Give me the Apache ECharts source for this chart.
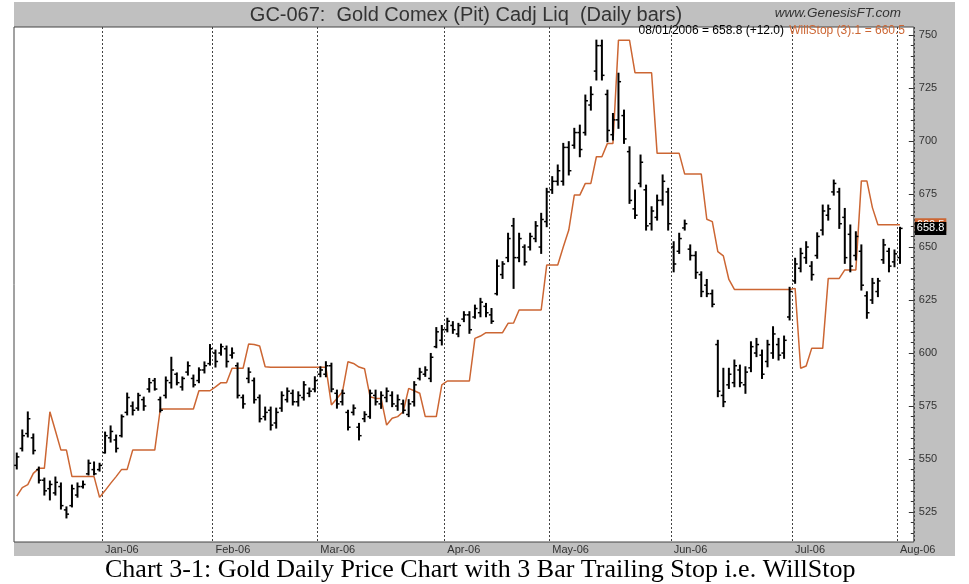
<!DOCTYPE html>
<html>
<head>
<meta charset="utf-8">
<title>GC-067 Gold Comex daily bars with WillStop</title>
<script src="https://cdn.jsdelivr.net/npm/echarts@6.0.0/dist/echarts.min.js"></script>
<style>
  html, body { margin: 0; padding: 0; background: #fff; }
  #chart { width: 969px; height: 584px; }
</style>
</head>
<body>
<div id="chart"></div>
<script>
// trading calendar: 08 Dec 2005 .. 01 Aug 2006, weekdays minus exchange holidays
const firstDay = '2005-12-08';
const lastDay = '2006-08-01';
const holidays = ['2005-12-26', '2006-01-02', '2006-01-16', '2006-02-20',
                  '2006-04-14', '2006-05-29', '2006-07-03', '2006-07-04'];
const monthNames = ['Jan', 'Feb', 'Mar', 'Apr', 'May', 'Jun',
                    'Jul', 'Aug', 'Sep', 'Oct', 'Nov', 'Dec'];

// daily bars
const opens = [
  547, 555, 562, 560, 545, 540, 536, 534, 537, 526,
  528, 533, 537, 543, 545, 545, 553, 560, 559, 561,
  572, 575, 574, 578, 583, 587, 578, 580, 586, 590,
  584, 591, 588, 587, 592, 595, 600, 600, 602, 599,
  594, 579, 588, 587, 579, 570, 573, 567, 574, 578,
  581, 577, 579, 581, 583, 590, 590, 594, 581, 577,
  572, 572, 565, 569, 570, 580, 576, 579, 580, 575,
  576, 571, 577, 588, 590, 588, 603, 606, 611, 613,
  609, 616, 618, 617, 619, 622, 618, 628, 637, 645,
  660, 645, 650, 650, 654, 650, 662, 677, 681, 681,
  697, 698, 704, 704, 717, 733, 745, 722, 703, 710,
  712, 695, 668, 680, 677, 661, 664, 672, 676, 650,
  648, 659, 649, 646, 637, 632, 628, 604, 580, 585,
  586, 592, 585, 593, 600, 599, 596, 600, 604, 600,
  617, 634, 640, 645, 641, 646, 658, 665, 676, 676,
  664, 656, 646, 648, 627, 625, 629, 644, 648, 643,
  645
];
const highs = [
  552.8, 563.7, 572.2, 561.8, 546.2, 541.0, 539.6, 541.5, 538.7, 527.4,
  537.7, 538.7, 539.6, 549.5, 548.6, 548.0, 562.7, 565.6, 561.3, 570.8,
  581.1, 576.9, 581.0, 579.2, 588.0, 588.0, 579.2, 588.7, 598.0, 590.6,
  588.7, 595.8, 589.6, 593.0, 595.8, 604.0, 601.4, 604.2, 603.3, 602.4,
  595.3, 580.2, 593.0, 588.2, 580.2, 574.5, 574.5, 574.0, 581.7, 583.5,
  582.5, 581.7, 586.5, 583.5, 588.8, 593.5, 595.9, 595.2, 582.5, 582.5,
  573.0, 575.5, 566.8, 572.3, 582.5, 582.5, 581.7, 583.5, 581.7, 580.2,
  577.8, 578.0, 586.5, 592.8, 593.5, 599.8, 612.0, 613.0, 616.4, 614.8,
  614.0, 619.5, 619.5, 622.6, 625.8, 623.4, 621.0, 643.9, 643.1, 656.5,
  663.5, 656.5, 651.0, 656.5, 662.0, 665.9, 677.7, 683.2, 688.7, 698.9,
  699.7, 706.0, 707.5, 721.7, 725.6, 747.6, 747.6, 724.0, 713.0, 732.0,
  714.6, 697.3, 676.9, 693.4, 679.2, 669.0, 674.5, 684.0, 677.7, 652.5,
  656.5, 662.7, 651.0, 647.8, 638.3, 634.7, 629.7, 606.0, 592.8, 592.8,
  596.7, 594.3, 593.5, 605.3, 606.9, 601.4, 606.0, 612.4, 606.9, 608.0,
  631.0, 644.7, 649.4, 652.5, 643.1, 656.7, 669.8, 669.8, 681.6, 677.7,
  668.2, 660.4, 657.2, 651.0, 628.9, 635.2, 635.2, 653.6, 649.4, 648.6,
  659.3
];
const lows = [
  545.3, 553.8, 560.4, 552.4, 538.7, 533.0, 530.7, 533.0, 526.4, 522.2,
  527.4, 532.0, 536.3, 542.5, 542.5, 544.3, 552.8, 558.0, 553.3, 560.4,
  570.8, 570.8, 573.0, 573.0, 581.6, 582.5, 572.2, 578.8, 583.5, 585.0,
  582.5, 589.6, 584.0, 586.0, 590.6, 594.3, 593.4, 599.0, 593.4, 597.6,
  578.8, 574.0, 586.0, 576.4, 567.5, 568.4, 563.7, 564.6, 572.5, 576.9,
  575.5, 575.0, 577.8, 579.4, 581.7, 588.8, 588.8, 581.7, 574.0, 575.5,
  563.7, 570.8, 559.0, 567.6, 569.2, 575.5, 573.9, 577.0, 574.7, 573.0,
  571.6, 570.0, 575.0, 587.3, 589.0, 586.5, 602.5, 603.8, 610.0, 609.3,
  607.7, 614.8, 609.3, 616.4, 617.1, 617.1, 614.0, 627.4, 635.2, 643.1,
  630.5, 643.1, 641.5, 648.6, 652.5, 647.0, 659.6, 675.3, 679.2, 679.2,
  684.0, 696.6, 692.6, 702.8, 714.6, 728.8, 728.8, 699.7, 700.5, 706.0,
  698.9, 670.6, 663.5, 678.4, 658.0, 658.0, 662.7, 669.8, 658.0, 638.3,
  647.0, 658.0, 643.9, 635.2, 626.6, 626.6, 621.8, 579.4, 574.7, 583.3,
  584.1, 584.1, 581.0, 591.2, 598.3, 588.0, 593.5, 597.5, 596.7, 597.5,
  615.6, 632.9, 638.3, 642.3, 634.4, 644.7, 655.7, 662.7, 674.5, 658.8,
  642.3, 638.3, 643.9, 629.7, 616.4, 623.4, 626.6, 642.3, 638.3, 640.7,
  642.3
];
const closes = [
  551, 561, 569, 554, 540, 535, 538, 539, 528, 524,
  536, 537, 538, 548, 543, 547, 561, 563, 555, 570,
  579, 573, 580, 575, 586, 583, 573, 587, 592, 586,
  588, 594, 585, 592, 594, 602, 596, 603, 596, 600,
  580, 576, 591, 578, 569, 572, 566, 572, 580, 582,
  577, 580, 585, 582, 587, 592, 594, 583, 576, 581,
  565, 574, 561, 571, 581, 577, 580, 582, 576, 578,
  573, 576, 585, 591, 592, 598, 610, 611, 615, 611,
  613, 618, 611, 621, 624, 619, 615, 641, 642, 654,
  645, 654, 643, 655, 660, 663, 676, 681, 686, 697,
  686, 704, 696, 719, 722, 745, 731, 705, 710, 728,
  701, 672, 665, 690, 660, 667, 672, 681, 661, 642,
  654, 661, 646, 638, 629, 628, 623, 582, 577, 590,
  594, 586, 591, 603, 604, 590, 604, 609, 599, 606,
  629, 642, 647, 650, 637, 655, 667, 668, 680, 661,
  645, 641, 655, 632, 619, 633, 634, 651, 641, 646.8,
  658.8
];
// WillStop (3) trailing stop
const willStop = [
  532.5, 536.5, 537.9, 543.2, 545.6, 545.6, 572.3, 563.3, 554.2, 554.2,
  541.7, 541.7, 541.7, 541.7, 541.7, 531.9, 535.1, 538.5, 541.7, 545.1,
  545.1, 554.2, 554.2, 554.2, 554.2, 554.2, 573.6, 573.6, 573.6, 573.6,
  573.6, 573.6, 573.6, 582.2, 582.2, 582.2, 584.0, 586.0, 586.0, 592.8,
  592.8, 592.8, 604.2, 604.0, 603.3, 593.5, 593.3, 593.3, 593.3, 593.3,
  593.3, 593.3, 593.3, 593.3, 593.3, 593.3, 593.3, 575.5, 578.5, 581.7,
  595.9, 595.1, 593.4, 592.6, 579.4, 578.6, 578.6, 566.0, 569.2, 570.0,
  572.3, 583.3, 582.2, 581.0, 570.0, 570.0, 570.0, 585.0, 586.8, 586.8,
  586.8, 586.8, 586.8, 606.9, 608.0, 609.6, 609.6, 609.6, 609.6, 614.0,
  614.2, 620.3, 620.3, 620.3, 620.3, 620.3, 641.5, 641.5, 641.5, 650.0,
  658.0, 674.5, 674.5, 680.0, 680.0, 692.6, 692.6, 698.9, 698.9, 747.6,
  747.6, 747.6, 732.2, 732.2, 732.2, 732.2, 694.2, 694.2, 694.2, 694.2,
  694.2, 684.4, 684.4, 684.4, 684.4, 663.1, 662.0, 647.8, 645.8, 634.7,
  630.0, 630.0, 630.0, 630.0, 630.0, 630.0, 630.0, 630.0, 630.0, 630.0,
  630.0, 630.5, 592.8, 593.9, 602.2, 602.2, 602.2, 635.2, 635.2, 635.2,
  639.2, 639.2, 639.2, 681.2, 681.2, 668.6, 660.5, 660.5, 660.5, 660.5,
  660.5
];

const priceTicks = [525, 550, 575, 600, 625, 650, 675, 700, 725, 750];
const minorTicks = [515, 520, 530, 535, 540, 545, 555, 560, 565, 570, 580, 585,
                    590, 595, 605, 610, 615, 620, 630, 635, 640, 645, 655, 660,
                    665, 670, 680, 685, 690, 695, 705, 710, 715, 720, 730, 735,
                    740, 745];

const FRAME = '#c0c0c0';
const INK = '#333';
const STOP_COLOR = '#cc6633';
const SANS = '"Liberation Sans", Arial, sans-serif';

function tradingDays() {
  const out = [];
  const d = new Date(firstDay + 'T00:00:00Z');
  const end = new Date(lastDay + 'T00:00:00Z');
  while (d <= end) {
    const iso = d.toISOString().slice(0, 10);
    const wd = d.getUTCDay();
    if (wd !== 0 && wd !== 6 && holidays.indexOf(iso) < 0) out.push(iso);
    d.setUTCDate(d.getUTCDate() + 1);
  }
  return out;
}

const days = tradingDays();
const n = days.length;

function isMonthStart(i) {
  return i > 0 && i < n && days[i].slice(0, 7) !== days[i - 1].slice(0, 7);
}
function monthLabel(iso) {
  return monthNames[+iso.slice(5, 7) - 1] + '-' + iso.slice(2, 4);
}

const bars = days.map((d, i) => [i, opens[i], highs[i], lows[i], closes[i]]);

const lastClose = closes[n - 1];
const change = lastClose - closes[n - 2];
const lastStop = willStop[n - 1];
const lastDate = days[n - 1];
const dateText = lastDate.slice(5, 7) + '/' + lastDate.slice(8, 10) + '/' + lastDate.slice(0, 4) +
  ' = ' + lastClose.toFixed(1) + ' (' + (change >= 0 ? '+' : '') + change.toFixed(1) + ')';

function renderOhlc(params, api) {
  const i = api.value(0);
  const hi = api.coord([i, api.value(2)]);
  const lo = api.coord([i, api.value(3)]);
  const op = api.coord([i, api.value(1)]);
  const cl = api.coord([i, api.value(4)]);
  const x = hi[0];
  const tick = 2.6;
  return {
    type: 'group',
    children: [
      { type: 'line', shape: { x1: x, y1: hi[1] - 0.5, x2: x, y2: lo[1] + 0.5 },
        style: { stroke: '#000', lineWidth: 2 } },
      { type: 'line', shape: { x1: x - tick, y1: op[1], x2: x, y2: op[1] },
        style: { stroke: '#000', lineWidth: 1.5 } },
      { type: 'line', shape: { x1: x, y1: cl[1], x2: x + tick, y2: cl[1] },
        style: { stroke: '#000', lineWidth: 1.5 } }
    ]
  };
}

const yMin = 510.85;
const yMax = 753.8;

function priceAxis(extra) {
  return Object.assign({
    type: 'value',
    position: 'right',
    min: yMin,
    max: yMax,
    axisLine: { show: false },
    splitLine: { show: false },
    axisTick: { show: false },
    axisLabel: { show: false }
  }, extra);
}

const chart = echarts.init(document.getElementById('chart'));
chart.setOption({
  animation: false,
  backgroundColor: '#fff',
  textStyle: { fontFamily: SANS },
  grid: {
    left: 14, right: 55.2, top: 27, bottom: 42,
    show: true, backgroundColor: '#fff', borderColor: '#444', borderWidth: 1
  },
  xAxis: {
    type: 'category',
    data: days.concat(['', '']),
    boundaryGap: true,
    axisLine: { show: false },
    axisTick: { show: false },
    axisLabel: {
      interval: (i) => isMonthStart(i),
      formatter: (v) => monthLabel(v),
      align: 'left',
      color: INK,
      fontSize: 11,
      fontFamily: SANS,
      margin: 2
    },
    splitLine: {
      show: true,
      interval: (i) => isMonthStart(i),
      lineStyle: { color: '#444', width: 1, type: [2, 2] }
    }
  },
  yAxis: [
    priceAxis({
      axisTick: { show: true, inside: true, length: 5, customValues: priceTicks,
                  lineStyle: { color: INK } },
      axisLabel: { show: true, customValues: priceTicks, color: INK, fontSize: 11,
                   fontFamily: SANS, margin: 5 }
    }),
    priceAxis({
      axisTick: { show: true, inside: true, length: 3, customValues: minorTicks,
                  lineStyle: { color: INK } }
    }),
    priceAxis({
      z: 4,
      axisLabel: { show: true, customValues: [lastStop], formatter: (v) => v.toFixed(1),
                   color: '#fff', backgroundColor: STOP_COLOR, padding: [1, 2, 1, 2],
                   fontSize: 11, fontFamily: SANS, margin: 1 }
    }),
    priceAxis({
      z: 5,
      axisLabel: { show: true, customValues: [lastClose], formatter: (v) => v.toFixed(1),
                   color: '#fff', backgroundColor: '#000', padding: [1, 2, 1, 2],
                   fontSize: 11, fontFamily: SANS, margin: 1 }
    })
  ],
  series: [
    {
      name: 'WillStop (3)',
      type: 'line',
      data: willStop,
      showSymbol: false,
      lineStyle: { color: STOP_COLOR, width: 1.5 },
      z: 2
    },
    {
      name: 'GC-067',
      type: 'custom',
      renderItem: renderOhlc,
      data: bars,
      encode: { x: 0, y: [2, 3] },
      clip: true,
      z: 3
    }
  ],
  graphic: [
    { type: 'rect', silent: true, z: -10, shape: { x: 14, y: 2, width: 941, height: 25 },
      style: { fill: FRAME } },
    { type: 'rect', silent: true, z: -10, shape: { x: 913.8, y: 2, width: 41.2, height: 554 },
      style: { fill: FRAME } },
    { type: 'rect', silent: true, z: -10, shape: { x: 14, y: 542, width: 941, height: 14 },
      style: { fill: FRAME } },
    { type: 'text', silent: true, z: 10, x: 466, y: 15,
      style: { text: 'GC-067:  Gold Comex (Pit) Cadj Liq  (Daily bars)', fill: INK,
               font: '20px ' + SANS, textAlign: 'center', align: 'center',
               textVerticalAlign: 'middle', verticalAlign: 'middle' } },
    { type: 'text', silent: true, z: 10, x: 901, y: 13,
      style: { text: 'www.GenesisFT.com', fill: INK, font: 'italic 13.5px ' + SANS,
               textAlign: 'right', align: 'right',
               textVerticalAlign: 'middle', verticalAlign: 'middle' } },
    { type: 'text', silent: true, z: 10, x: 784, y: 31,
      style: { text: dateText, fill: '#000', font: '12px ' + SANS,
               textAlign: 'right', align: 'right',
               textVerticalAlign: 'middle', verticalAlign: 'middle' } },
    { type: 'text', silent: true, z: 10, x: 905, y: 31,
      style: { text: 'WillStop (3).1 = ' + lastStop.toFixed(1), fill: STOP_COLOR,
               font: '12px ' + SANS, textAlign: 'right', align: 'right',
               textVerticalAlign: 'middle', verticalAlign: 'middle' } },
    { type: 'text', silent: true, z: 10, x: 105, y: 570,
      style: { text: 'Chart 3-1: Gold Daily Price Chart with 3 Bar Trailing Stop i.e. WillStop',
               fill: '#000', font: '26px "Liberation Serif", "Times New Roman", serif',
               textAlign: 'left', align: 'left',
               textVerticalAlign: 'middle', verticalAlign: 'middle' } }
  ]
});
</script>
</body>
</html>
